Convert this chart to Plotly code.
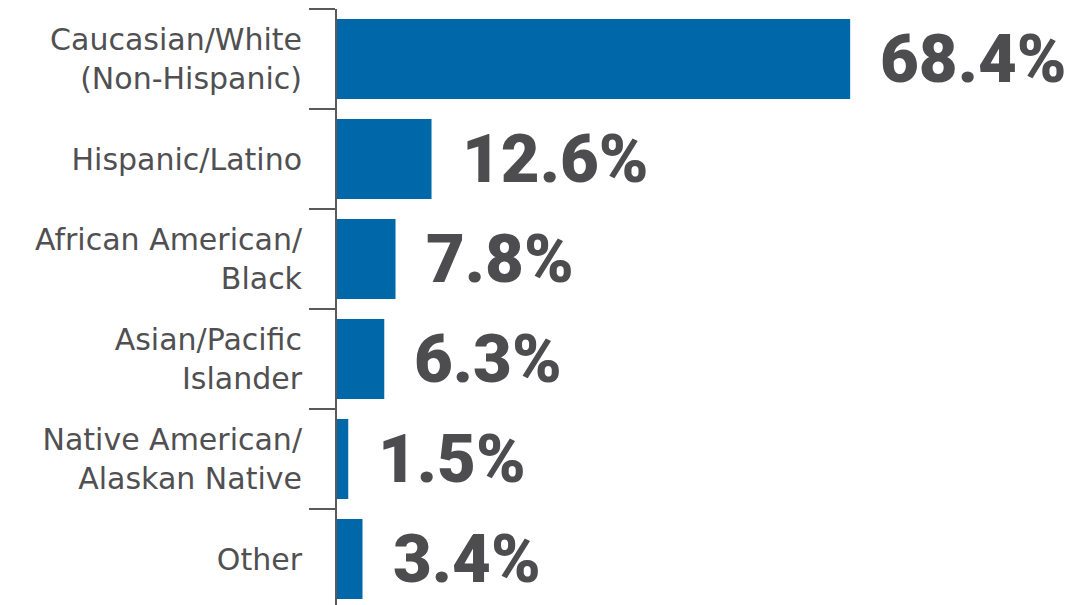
import plotly.graph_objects as go

# Share of each group (percent)
categories = [
    "Caucasian/White<br>(Non-Hispanic)",
    "Hispanic/Latino",
    "African American/<br>Black",
    "Asian/Pacific<br>Islander",
    "Native American/<br>Alaskan Native",
    "Other",
]
values = [68.4, 12.6, 7.8, 6.3, 1.5, 3.4]
value_labels = [f"{v:.1f}%" for v in values]

BAR_COLOR = "#0068A9"
TEXT_COLOR = "#4D4D4F"
LABEL_COLOR = "#505052"
AXIS_COLOR = "#5A5A5C"

fig = go.Figure(
    go.Bar(
        x=values,
        y=categories,
        orientation="h",
        marker=dict(color=BAR_COLOR, line=dict(width=0)),
        width=0.8,
        hoverinfo="skip",
    )
)

for cat, v, lab in zip(categories, values, value_labels):
    fig.add_annotation(
        x=v, y=cat, text=lab, showarrow=False,
        xanchor="left", yanchor="middle", xshift=28,
        font=dict(family="Roboto", size=67, color=TEXT_COLOR, weight=900),
    )

fig.update_layout(
    width=1076,
    height=605,
    margin=dict(l=337, r=0, t=9, b=0),
    paper_bgcolor="white",
    plot_bgcolor="white",
    showlegend=False,
    xaxis=dict(
        range=[0, 98.5],
        visible=False,
        fixedrange=True,
    ),
    yaxis=dict(
        type="category",
        range=[5.46, -0.5],
        showline=True,
        linecolor=AXIS_COLOR,
        linewidth=2,
        ticks="outside",
        tickson="boundaries",
        ticklen=26,
        tickwidth=2,
        tickcolor=AXIS_COLOR,
        showgrid=False,
        zeroline=False,
        ticklabelstandoff=27,
        tickfont=dict(family="DejaVu Sans", size=30, color=LABEL_COLOR),
        fixedrange=True,
    ),
)

fig.write_html("out.html", config={"displayModeBar": False})
